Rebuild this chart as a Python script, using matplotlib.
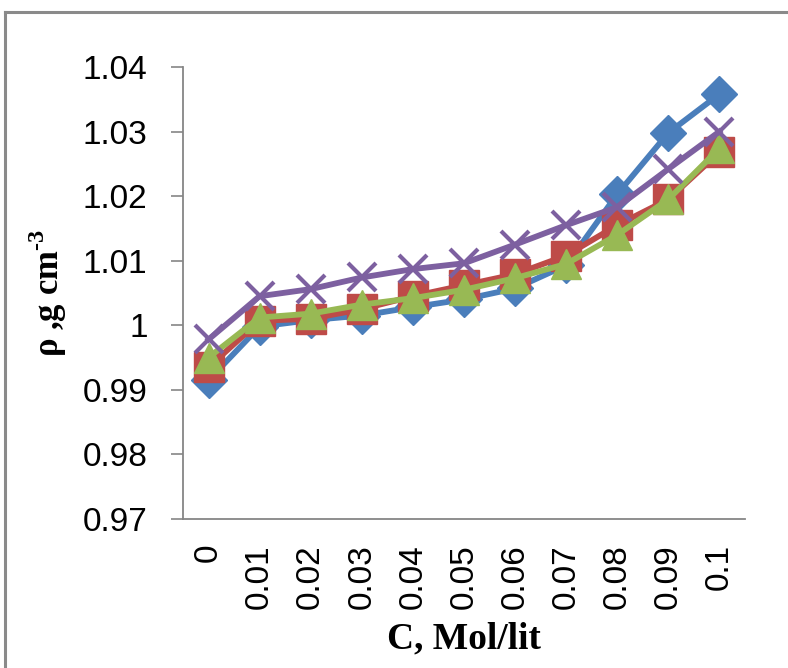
import matplotlib
matplotlib.use("Agg")
import matplotlib.pyplot as plt
from matplotlib.lines import Line2D

# concentration categories (Mol/lit)
conc = ["0", "0.01", "0.02", "0.03", "0.04", "0.05",
        "0.06", "0.07", "0.08", "0.09", "0.1"]

# density, g cm^-3
rho_blue = [0.9915, 0.9998, 1.0008, 1.0015, 1.0028, 1.0040,
            1.0057, 1.0093, 1.0203, 1.0298, 1.0358]
rho_red = [0.9935, 1.0007, 1.0010, 1.0025, 1.0045, 1.0062,
           1.0079, 1.0108, 1.0155, 1.0195, 1.0268]
rho_green = [0.9950, 1.0012, 1.0018, 1.0032, 1.0042, 1.0055,
             1.0073, 1.0095, 1.0140, 1.0195, 1.0274]
rho_purple = [0.9978, 1.0045, 1.0056, 1.0074, 1.0087, 1.0096,
              1.0125, 1.0155, 1.0183, 1.0242, 1.0300]

yticks = [0.97, 0.98, 0.99, 1.00, 1.01, 1.02, 1.03, 1.04]
ytick_labels = ["0.97", "0.98", "0.99", "1", "1.01", "1.02", "1.03", "1.04"]

plt.rcParams["mathtext.fontset"] = "custom"
plt.rcParams["mathtext.bf"] = "Liberation Serif:bold"
plt.rcParams["mathtext.rm"] = "Liberation Serif:bold"

fig = plt.figure(figsize=(7.88, 6.68), dpi=100)
fig.patch.set_facecolor("white")
ax = fig.add_axes([0.2322, 0.2231, 0.7132, 0.6766])

x = list(range(len(conc)))
lw = 4.2
ax.plot(x, rho_blue, color="#4a7ebb", lw=lw, marker="D", ms=18,
        mec="#4a7ebb", zorder=3)
ax.plot(x, rho_red, color="#be4b48", lw=lw, marker="s", ms=21,
        mec="#be4b48", zorder=4)
ax.plot(x, rho_green, color="#98b954", lw=lw, marker="^", ms=21,
        mec="#98b954", zorder=5)
ax.plot(x, rho_purple, color="#7d60a0", lw=lw, marker="x", ms=20,
        mew=3, mec="#7d60a0", zorder=6)

ax.set_xlim(-0.5, len(conc) - 0.5)
ax.set_ylim(0.97, 1.04)
ax.set_xticks(x)
ax.set_xticklabels(conc, rotation=90, fontsize=24, family="Liberation Sans")
ax.set_yticks(yticks)
ax.set_yticklabels(ytick_labels, fontsize=24, family="Liberation Sans")
ax.tick_params(axis="x", length=0, pad=18)
ax.tick_params(axis="y", length=8.5, width=1.2, color="#868686", pad=17,
               direction="out")

for side in ("top", "right"):
    ax.spines[side].set_visible(False)
for side in ("left", "bottom"):
    ax.spines[side].set_color("#868686")
    ax.spines[side].set_linewidth(1.3)

ax.set_xlabel("C, Mol/lit", fontsize=27, fontweight="bold",
              family="Liberation Serif", labelpad=9)
ax.set_ylabel(r"ρ ,g cm$^{\text{-3}}$", fontsize=25, fontweight="bold",
              family="Liberation Serif", labelpad=10)

# outer chart frame (left and top edges visible)
fig.add_artist(Line2D([5 / 788, 5 / 788], [0, 1 - 12 / 668],
                      transform=fig.transFigure, color="#8a8a8a", lw=2.2))
fig.add_artist(Line2D([5 / 788, 1], [1 - 12 / 668, 1 - 12 / 668],
                      transform=fig.transFigure, color="#8a8a8a", lw=2.2))

fig.savefig("out.png", dpi=100, facecolor="white")
